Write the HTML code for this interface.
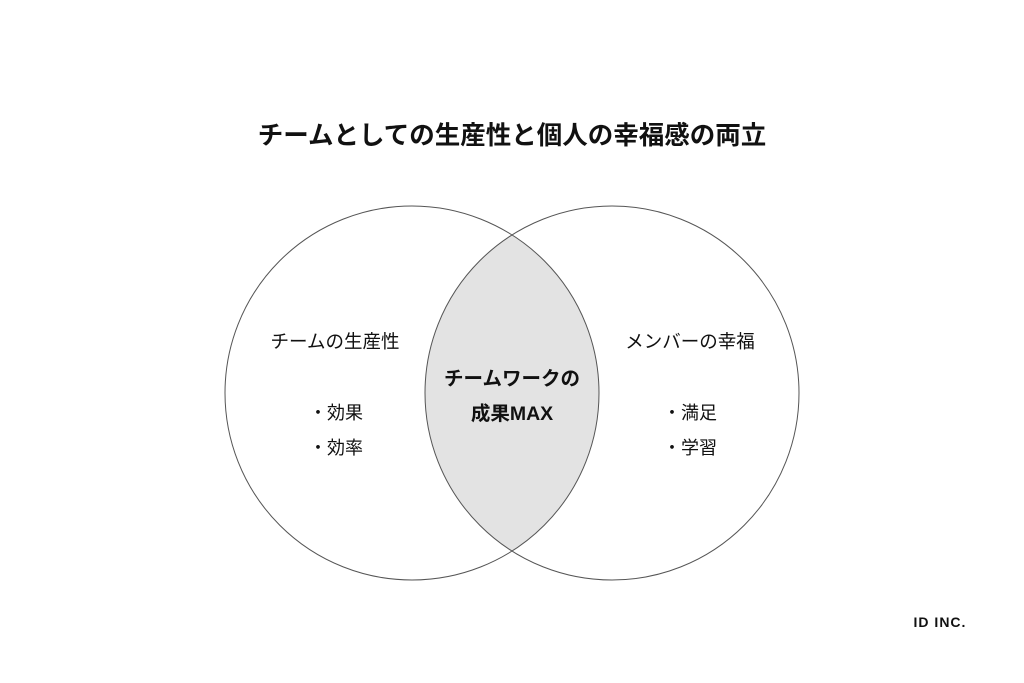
<!DOCTYPE html>
<html><head><meta charset="utf-8"><style>
body{margin:0;width:1024px;height:683px;background:#fff;overflow:hidden}
svg{display:block}
text{font-family:"Liberation Sans","Noto Sans CJK JP",sans-serif;fill:#111}
</style></head><body>
<svg width="1024" height="683" viewBox="0 0 1024 683">
<text x="512" y="144" font-size="25.5" font-weight="bold" text-anchor="middle">チームとしての生産性と個人の幸福感の両立</text>
<path d="M512 235 A187 187 0 0 1 512 551 A187 187 0 0 1 512 235 Z" fill="#e3e3e3"/>
<circle cx="412" cy="393" r="187" fill="none" stroke="#555" stroke-width="1"/>
<circle cx="612" cy="393" r="187" fill="none" stroke="#555" stroke-width="1"/>
<text x="335" y="348" font-size="18.5" text-anchor="middle">チームの生産性</text>
<text x="336" y="419" font-size="18" text-anchor="middle">・効果</text>
<text x="336" y="454" font-size="18" text-anchor="middle">・効率</text>
<text x="690" y="348" font-size="18.5" text-anchor="middle">メンバーの幸福</text>
<text x="690" y="419" font-size="18" text-anchor="middle">・満足</text>
<text x="690" y="454" font-size="18" text-anchor="middle">・学習</text>
<text x="512" y="385" font-size="19.5" font-weight="bold" text-anchor="middle">チームワークの</text>
<text x="512" y="420" font-size="19.5" font-weight="bold" text-anchor="middle">成果MAX</text>
<text x="940" y="627" font-size="14" font-weight="bold" text-anchor="middle" letter-spacing="1">ID INC.</text>
</svg>
</body></html>
